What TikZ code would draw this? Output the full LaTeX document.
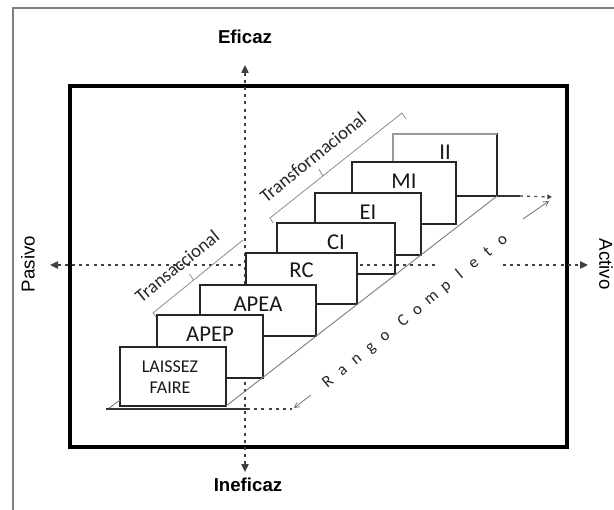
\documentclass[tikz,border=0pt]{standalone}
\usepackage{fontspec}
\setmainfont{Carlito}
\newfontfamily\arialf{Liberation Sans}
\usetikzlibrary{arrows.meta,calc,fit}
\begin{document}
\begin{tikzpicture}[x=0.75pt,y=-0.75pt,
  frame/.style={draw=black, line width=3pt},
  border/.style={draw=black!50, line width=1.1pt},
  stairbox/.style={draw=black!85, line width=1pt, fill=white, inner sep=0pt, outer sep=0pt},
  boxlabel/.style={font=\fontsize{17}{20}\selectfont, text=black!90, inner sep=0pt},
  axis/.style={draw=black!75, line width=1pt, dash pattern=on 2.2pt off 3.2pt},
  axtip/.style={-{Triangle[width=5.5pt,length=6pt]}},
  axislabel/.style={font=\arialf\bfseries\fontsize{14}{16}\selectfont, inner sep=0pt},
  sidelabel/.style={font=\arialf\fontsize{14}{16}\selectfont, inner sep=0pt},
  bracket/.style={draw=black!45, line width=0.6pt},
  brlabel/.style={font=\fontsize{14}{16}\selectfont, text=black!85, inner sep=0pt},
  diag/.style={draw=black!50, line width=0.7pt},
  baseln/.style={draw=black!80, line width=1.1pt},
  pointer/.style={draw=black!55, line width=0.6pt, -{Straight Barb[length=3.5pt,width=4pt]}},
  rango/.style={font=\fontsize{12.5}{14}\selectfont, text=black!85, inner sep=0pt, anchor=base}
]
\useasboundingbox (0,0) rectangle (614,510);
\fill[white] (0,0) rectangle (614,510);
% outer thin border
\draw[border] (616,8) -- (13,8) -- (13,514);
% thick frame
\draw[frame] (70,86) rectangle (567,447);

% axis labels
\node[axislabel] (eficaz) at (245,37) {Eficaz};
\node[axislabel] (ineficaz) at (248,485) {Ineficaz};
\node[sidelabel, rotate=90] (pasivo) at (28,264) {Pasivo};
\node[sidelabel, rotate=-90] (activo) at (606,264) {Activo};

% vertical axis
\coordinate (vtop) at (245,65);
\coordinate (vbot) at (245,472);
\draw[axis, {Triangle[width=5.5pt,length=6pt]}-{Triangle[width=5.5pt,length=6pt]}] (vtop) -- (vbot);

% staircase (back to front)
\node[stairbox, fit={(393,134) (497,196)}] (II) {};
\draw[draw=black!40, line width=0.9pt] (II.south west) -- (II.north west) -- (II.north east);
\node[boxlabel] (IIl) at ($(II.north)+(0,18)$) {II};

\node[stairbox, fit={(352,162) (456,224)}] (MI) {};
\node[boxlabel] (MIl) at ($(MI.north)+(0,19)$) {MI};

\node[stairbox, fit={(315,193) (421,255)}] (EI) {};
\node[boxlabel] (EIl) at ($(EI.north)+(0,19)$) {EI};

\node[stairbox, fit={(277,223) (395,274)}] (CI) {};
\node[boxlabel] (CIl) at ($(CI.north)+(0,19)$) {CI};

% horizontal axis
\coordinate (hleft) at (50,265);
\coordinate (hgap1) at (435,265);
\coordinate (hgap2) at (503,265);
\coordinate (hright) at (588,265);
\draw[axis, {Triangle[width=5.5pt,length=6pt]}-] (hleft) -- (hgap1);
\draw[axis, axtip] (hgap2) -- (hright);

\node[stairbox, fit={(246,253) (357,304)}] (RC) {};
\node[boxlabel] (RCl) at ($(RC.north)+(0,17)$) {RC};

\node[stairbox, fit={(200,285) (316,336)}] (APEA) {};
\node[boxlabel] (APEAl) at ($(APEA.north)+(0,19)$) {APEA};

\node[stairbox, fit={(157,315) (263,378)}] (APEP) {};
\node[boxlabel] (APEPl) at ($(APEP.north)+(0,19)$) {APEP};

\node[stairbox, fit={(120,347) (226,406)}] (LF) {};
\node[font=\fontsize{13.5}{16}\selectfont, text=black!90, align=center, inner sep=0pt] (LFl) at (170,377) {LAISSEZ\\FAIRE};

% plane lines
\draw[diag] (LF.south east) -- (II.south east);
\coordinate (pl0) at (108,409);
\coordinate (pl1) at (120,400);
\draw[diag] (pl0) -- (pl1);

% baseline
\coordinate (bl0) at (106,409);
\coordinate (bl1) at (247,409);
\coordinate (bl2) at (292,409);
\draw[baseln] (bl0) -- (bl1);
\draw[axis] (bl1) -- (bl2);

% top right end
\coordinate (tr1) at (520,196);
\coordinate (tr2) at (552,197);
\draw[baseln] (II.south east) -- (tr1);
\draw[axis, -{Triangle[width=3.5pt,length=3.5pt]}] (tr1) -- (tr2);

% Rango completo pointers
\coordinate (pa0) at (523,219);
\coordinate (pa1) at (549,201);
\coordinate (pb0) at (311,395);
\coordinate (pb1) at (294,408);
\draw[pointer] (pa0) -- (pa1);
\draw[pointer] (pb0) -- (pb1);

% brackets
\coordinate (ta1) at (153,313);
\coordinate (ta2) at (243,240);
\draw[bracket] ($(ta1)+(3,4)$) -- (ta1) -- (ta2);
\draw[bracket] ($(ta1)!0.45!(ta2)$) -- ++(-4,-6);
\node[brlabel, rotate=39] (transac) at (177,266) {Transaccional};

\coordinate (tf1) at (270,218);
\coordinate (tf2) at (402,113);
\draw[bracket] ($(tf1)+(3,5)$) -- (tf1) -- (tf2) -- ($(tf2)+(4,6)$);
\draw[bracket] ($(tf1)!0.4!(tf2)$) -- ++(-4,-7);
\node[brlabel, rotate=39] (transf) at (313,157) {Transformacional};

% Rango Completo text
\coordinate (rs) at (331,386);
\coordinate (re) at (505,244);
\foreach \ch/\k [count=\i] in {R/0,a/1,n/2,g/3,o/4,C/5.3,o/6.3,m/7.3,p/8.3,l/9.3,e/10.3,t/11.3,o/12.3}
  \node[rango, rotate=39] (rg\i) at ($(rs)!\k/12.3!(re)$) {\ch};
\end{tikzpicture}
\end{document}
